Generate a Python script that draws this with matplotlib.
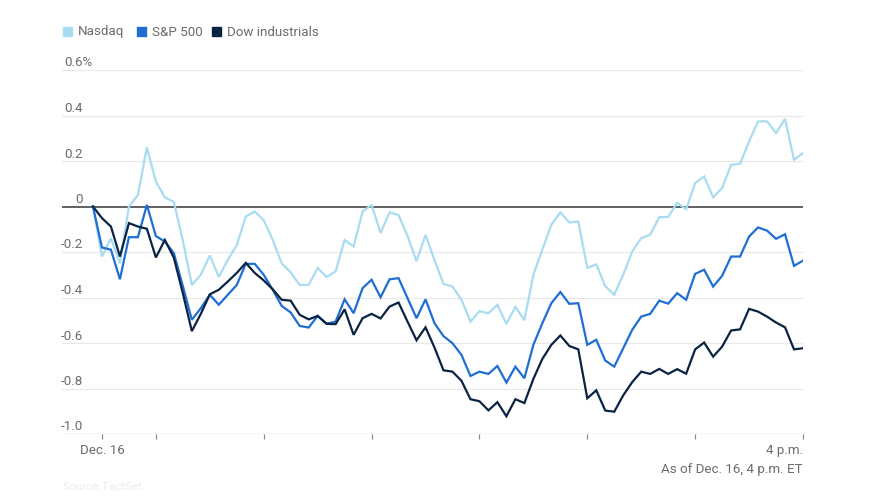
import matplotlib
matplotlib.use("Agg")
import matplotlib.pyplot as plt
from matplotlib.patches import Rectangle

# minutes after 9:30 a.m. (5-minute steps, first point is the prior close)
minutes = list(range(-5, 391, 5))

nasdaq = [0, -0.22, -0.14, -0.25, 0.0, 0.05, 0.26, 0.11, 0.04, 0.02,
          -0.15, -0.345, -0.30, -0.215, -0.31, -0.235, -0.17, -0.044, -0.022, -0.06,
          -0.146, -0.25, -0.29, -0.345, -0.345, -0.27, -0.31, -0.285, -0.147, -0.176,
          -0.022, 0.007, -0.116, -0.026, -0.037, -0.13, -0.24, -0.125, -0.235, -0.34,
          -0.352, -0.41, -0.506, -0.46, -0.469, -0.432, -0.516, -0.441, -0.50, -0.30,
          -0.19, -0.08, -0.026, -0.07, -0.066, -0.27, -0.254, -0.35, -0.388, -0.30,
          -0.198, -0.139, -0.125, -0.047, -0.046, 0.016, -0.012, 0.103, 0.132, 0.041,
          0.081, 0.183, 0.188, 0.286, 0.374, 0.374, 0.323, 0.385, 0.205, 0.235]

sp500 = [0, -0.18, -0.19, -0.32, -0.135, -0.135, 0.007, -0.13, -0.154, -0.205,
         -0.35, -0.498, -0.447, -0.388, -0.432, -0.388, -0.345, -0.252, -0.252, -0.30,
         -0.366, -0.437, -0.466, -0.525, -0.532, -0.481, -0.515, -0.506, -0.408, -0.469,
         -0.359, -0.322, -0.399, -0.32, -0.315, -0.403, -0.491, -0.408, -0.513, -0.57,
         -0.601, -0.652, -0.745, -0.726, -0.736, -0.701, -0.774, -0.704, -0.755, -0.608,
         -0.513, -0.425, -0.376, -0.428, -0.425, -0.608, -0.586, -0.677, -0.704, -0.623,
         -0.542, -0.484, -0.472, -0.414, -0.427, -0.381, -0.41, -0.296, -0.278, -0.352,
         -0.305, -0.22, -0.22, -0.132, -0.092, -0.106, -0.142, -0.122, -0.261, -0.238]

dow = [0, -0.051, -0.088, -0.22, -0.073, -0.088, -0.098, -0.224, -0.147, -0.225,
       -0.381, -0.548, -0.472, -0.386, -0.366, -0.33, -0.292, -0.248, -0.292, -0.325,
       -0.364, -0.41, -0.414, -0.476, -0.496, -0.481, -0.516, -0.517, -0.452, -0.564,
       -0.491, -0.472, -0.492, -0.44, -0.422, -0.506, -0.588, -0.531, -0.62, -0.72,
       -0.726, -0.766, -0.847, -0.856, -0.896, -0.86, -0.922, -0.847, -0.864, -0.758,
       -0.67, -0.608, -0.567, -0.613, -0.628, -0.843, -0.808, -0.897, -0.902, -0.83,
       -0.772, -0.726, -0.736, -0.714, -0.736, -0.715, -0.735, -0.628, -0.598, -0.66,
       -0.616, -0.545, -0.54, -0.45, -0.462, -0.484, -0.51, -0.531, -0.628, -0.623]

series_names = ["Nasdaq", "S&P 500", "Dow industrials"]
series_colors = ["#a9dcf1", "#1f6ed4", "#0b2343"]

y_ticks = [0.6, 0.4, 0.2, 0, -0.2, -0.4, -0.6, -0.8, -1.0]
y_labels = ["0.6%", "0.4", "0.2", "0", "-0.2", "-0.4", "-0.6", "-0.8", "-1.0"]
x_ticks = [0, 30, 90, 150, 210, 270, 330, 390]
x_labels = {0: "Dec. 16", 390: "4 p.m."}

W, H = 884, 503
plt.rcParams['font.family'] = ['Roboto', 'DejaVu Sans']
fig = plt.figure(figsize=(W / 100, H / 100), dpi=100)

L, R, T, B = 62, 803, 70, 434
ax = fig.add_axes([L / W, 1 - B / H, (R - L) / W, (B - T) / H])
x_left = -5 - (93 - L) / 1.8
ax.set_xlim(x_left, 390)
ax.set_ylim(-1.0, 0.6)
for s in ax.spines.values():
    s.set_visible(False)
ax.set_xticks([])
ax.set_yticks([])

txt_col = "#6b6b6b"
fs = 9.6

for v, lab in zip(y_ticks, y_labels):
    if v == 0:
        ax.axhline(0, color="#555555", lw=1.3, zorder=3)
    elif v == -1.0:
        ax.axhline(v, color="#d4d4d4", lw=1.0, zorder=1)
    else:
        ax.axhline(v, color="#e8e8e8", lw=0.9, zorder=1)
    if lab.endswith("%"):
        ax.annotate(lab, xy=(0, v), xycoords=("axes fraction", "data"),
                    xytext=(2, 0.5), textcoords="offset pixels",
                    ha="left", va="bottom", fontsize=fs, color=txt_col)
    else:
        ax.annotate(lab, xy=(0, v), xycoords=("axes fraction", "data"),
                    xytext=(21, 0.5), textcoords="offset pixels",
                    ha="right", va="bottom", fontsize=fs, color=txt_col)

for xt in x_ticks:
    ax.plot([xt, xt], [-1.0, -1.0 - 5 / 227.3], color="#8a8a8a", lw=0.9,
            clip_on=False, zorder=2, solid_capstyle="butt")

ax.annotate(x_labels[0], xy=(0, -1.0), xycoords="data", xytext=(0, -10),
            textcoords="offset pixels", ha="center", va="top", fontsize=fs, color=txt_col)
ax.annotate(x_labels[390], xy=(390, -1.0), xycoords="data", xytext=(0, -10),
            textcoords="offset pixels", ha="right", va="top", fontsize=fs, color=txt_col)

for vals, name, col, z in zip([nasdaq, sp500, dow], series_names, series_colors, [4, 5, 6]):
    ax.plot(minutes, vals, color=col, lw=1.6, zorder=z, solid_joinstyle="miter")

# legend
leg_x = [63, 137, 212]
for lx, name, col in zip(leg_x, series_names, series_colors):
    fig.patches.append(Rectangle((lx / W, 1 - 36 / H), 9 / W, 9 / H,
                                 transform=fig.transFigure, color=col, figure=fig))
    fig.text((lx + 15) / W, 1 - 32 / H, name, ha="left", va="center",
             fontsize=fs, color=txt_col)

fig.text(803 / W, 1 - 469 / H, "As of Dec. 16, 4 p.m. ET", ha="right", va="center",
         fontsize=fs, color=txt_col)
fig.text(63 / W, 1 - 487 / H, "Source: FactSet", ha="left", va="center",
         fontsize=fs - 1.5, color="#ececec")

fig.savefig("out.png", dpi=100)
